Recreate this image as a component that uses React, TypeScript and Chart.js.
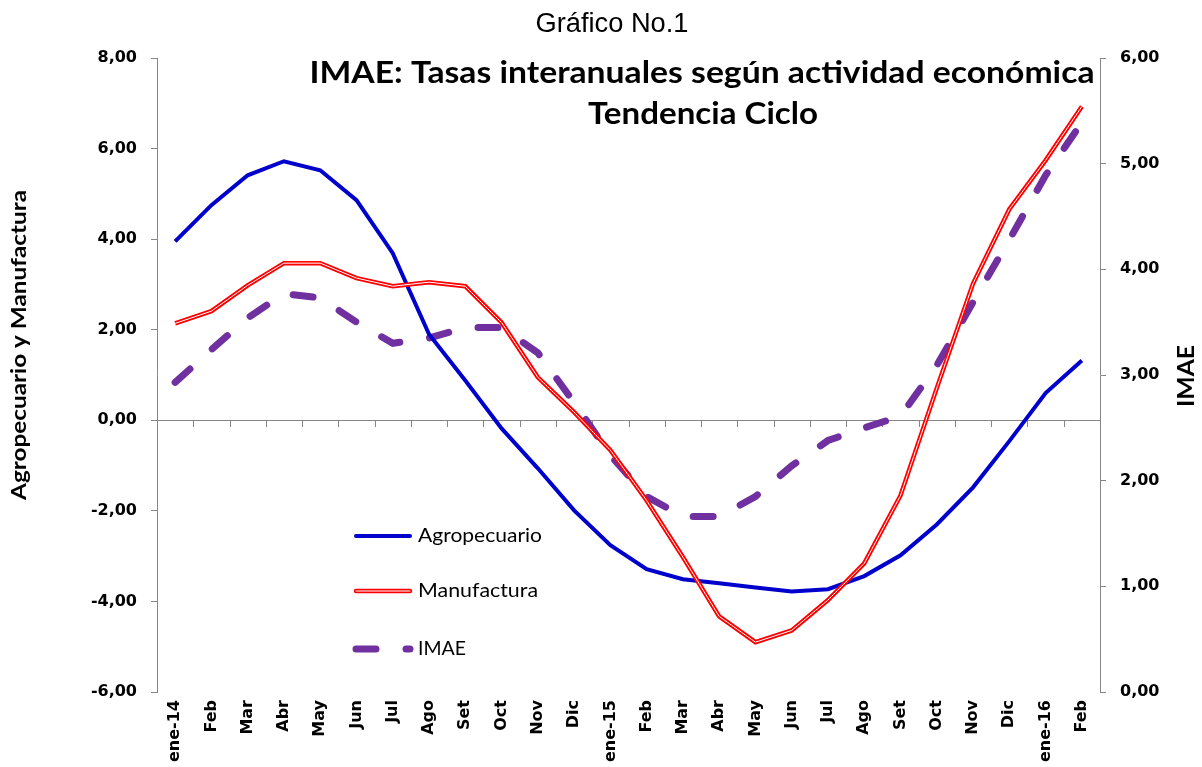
import React, { useEffect, useRef } from "react";
import { Chart, registerables } from "chart.js";

Chart.register(...registerables);

const categories = [
  "ene-14", "Feb", "Mar", "Abr", "May", "Jun", "Jul", "Ago", "Set", "Oct", "Nov", "Dic",
  "ene-15", "Feb", "Mar", "Abr", "May", "Jun", "Jul", "Ago", "Set", "Oct", "Nov", "Dic",
  "ene-16", "Feb",
];

const agropecuario = [
  3.95, 4.75, 5.41, 5.72, 5.52, 4.86, 3.69, 1.9, 0.88, -0.18, -1.06, -1.99,
  -2.76, -3.29, -3.51, -3.6, -3.69, -3.78, -3.73, -3.44, -2.98, -2.3, -1.48, -0.46,
  0.6, 1.32,
];

const manufactura = [
  2.14, 2.41, 2.98, 3.47, 3.47, 3.14, 2.96, 3.05, 2.96, 2.16, 0.95, 0.18,
  -0.66, -1.77, -3.02, -4.33, -4.9, -4.64, -3.97, -3.16, -1.66, 0.71, 3.02, 4.66,
  5.74, 6.93,
];

const imae = [
  2.93, 3.24, 3.54, 3.77, 3.73, 3.5, 3.3, 3.35, 3.45, 3.45, 3.21, 2.74,
  2.24, 1.85, 1.66, 1.66, 1.85, 2.14, 2.38, 2.5, 2.61, 3.09, 3.69, 4.28,
  4.89, 5.39,
];

const leftAxisRange = { min: -6, max: 8, step: 2 };
const rightAxisRange = { min: 0, max: 6, step: 1 };

const chartTitle = "Gráfico No.1";
const mainTitle1 = "IMAE: Tasas interanuales según actividad económica";
const mainTitle2 = "Tendencia Ciclo";
const leftAxisTitle = "Agropecuario y Manufactura";
const rightAxisTitle = "IMAE";

const BLUE = "#0000CC";
const RED = "#FF0000";
const PURPLE = "#7030A0";
const AXIS_GRAY = "#868686";

const fmt = (v: number) => v.toFixed(2).replace(".", ",");

function fitText(
  ctx: CanvasRenderingContext2D,
  text: string,
  x: number,
  y: number,
  font: string,
  width: number,
  rotation = 0
) {
  ctx.save();
  ctx.translate(x, y);
  ctx.rotate(rotation);
  ctx.font = font;
  ctx.fillStyle = "#000";
  ctx.textAlign = "center";
  ctx.textBaseline = "middle";
  const w = ctx.measureText(text).width;
  ctx.scale(width / w, 1);
  ctx.fillText(text, 0, 0);
  ctx.restore();
}

const decorPlugin = {
  id: "decor",
  beforeDatasetsDraw(chart: any) {
    const { ctx, chartArea, scales } = chart;
    const y0 = scales.y.getPixelForValue(0);
    ctx.save();
    ctx.strokeStyle = AXIS_GRAY;
    ctx.lineWidth = 1;
    ctx.beginPath();
    ctx.moveTo(chartArea.left - 6, Math.round(y0) + 0.5);
    ctx.lineTo(chartArea.right, Math.round(y0) + 0.5);
    const n = categories.length;
    for (let i = 1; i < n; i++) {
      const xb = (scales.x.getPixelForValue(i - 1) + scales.x.getPixelForValue(i)) / 2;
      ctx.moveTo(Math.round(xb) + 0.5, Math.round(y0));
      ctx.lineTo(Math.round(xb) + 0.5, Math.round(y0) + 7);
    }
    ctx.stroke();
    ctx.restore();
  },
  afterDraw(chart: any) {
    const { ctx } = chart;
    // titles
    fitText(ctx, chartTitle, 612, 25, "27px 'Liberation Sans Narrow', 'Liberation Sans', sans-serif", 153);
    fitText(ctx, mainTitle1, 702, 73, "bold 30px Lato, 'Open Sans', sans-serif", 785);
    fitText(ctx, mainTitle2, 703, 114, "bold 30px Lato, 'Open Sans', sans-serif", 230);
    fitText(ctx, leftAxisTitle, 19, 345, "bold 21px Lato, 'Open Sans', sans-serif", 310, -Math.PI / 2);
    fitText(ctx, rightAxisTitle, 1187, 376, "bold 23px Lato, 'Open Sans', sans-serif", 62, -Math.PI / 2);

    // legend
    const items = [
      { label: "Agropecuario", color: BLUE, width: 4, dash: [] as number[], y: 536, tw: 124, double: false },
      { label: "Manufactura", color: RED, width: 4.5, dash: [] as number[], y: 591, tw: 120, double: true },
      { label: "IMAE", color: PURPLE, width: 7, dash: [20, 30], y: 649, tw: 48, double: false },
    ];
    for (const it of items) {
      ctx.save();
      ctx.strokeStyle = it.color;
      ctx.lineWidth = it.width;
      ctx.lineCap = "round";
      ctx.setLineDash(it.dash);
      ctx.beginPath();
      ctx.moveTo(356, it.y);
      ctx.lineTo(410, it.y);
      ctx.stroke();
      if (it.double) {
        ctx.strokeStyle = "#fff";
        ctx.lineWidth = 1;
        ctx.beginPath();
        ctx.moveTo(356, it.y);
        ctx.lineTo(410, it.y);
        ctx.stroke();
      }
      ctx.restore();
      ctx.save();
      ctx.font = "19px Lato, 'Open Sans', sans-serif";
      ctx.fillStyle = "#000";
      ctx.textBaseline = "middle";
      ctx.textAlign = "left";
      const w = ctx.measureText(it.label).width;
      ctx.translate(418, it.y);
      ctx.scale(it.tw / w, 1);
      ctx.fillText(it.label, 0, 0);
      ctx.restore();
    }
  },
};

export default function App() {
  const ref = useRef<HTMLCanvasElement | null>(null);

  useEffect(() => {
    document.body.style.margin = "0";
    const canvas = ref.current;
    if (!canvas) return;
    const tickFont = { family: "'DejaVu Sans', Verdana, sans-serif", weight: "bold" as const, size: 16 };
    const chart = new Chart(canvas, {
      type: "line",
      data: {
        labels: categories,
        datasets: [
          {
            label: "Agropecuario",
            data: agropecuario,
            yAxisID: "y",
            borderColor: BLUE,
            borderWidth: 4,
            pointRadius: 0,
            tension: 0,
            order: 3,
          },
          {
            label: "Manufactura",
            data: manufactura,
            yAxisID: "y",
            borderColor: RED,
            borderWidth: 4.5,
            pointRadius: 0,
            tension: 0,
            order: 2,
          },
          {
            label: "Manufactura (interior)",
            data: manufactura,
            yAxisID: "y",
            borderColor: "#FFFFFF",
            borderWidth: 1,
            pointRadius: 0,
            tension: 0,
            order: 1,
          },
          {
            label: "IMAE",
            data: imae,
            yAxisID: "y1",
            borderColor: PURPLE,
            borderWidth: 7,
            borderDash: [20, 30],
            borderCapStyle: "round",
            pointRadius: 0,
            tension: 0,
            order: 4,
          },
        ],
      },
      options: {
        responsive: false,
        animation: false,
        events: [],
        layout: { padding: { top: 58, left: 0, right: 0, bottom: 0 } },
        plugins: {
          legend: { display: false },
          title: { display: false },
          tooltip: { enabled: false },
        },
        scales: {
          x: {
            type: "category",
            offset: true,
            grid: { display: false, drawTicks: false },
            border: { display: false },
            ticks: {
              autoSkip: false,
              maxRotation: 90,
              minRotation: 90,
              padding: 8,
              color: "#000",
              font: tickFont,
            },
            afterFit: (s: any) => {
              s.height = 75;
            },
          },
          y: {
            position: "left",
            min: leftAxisRange.min,
            max: leftAxisRange.max,
            ticks: {
              stepSize: leftAxisRange.step,
              callback: (v: any) => fmt(Number(v)),
              color: "#000",
              font: tickFont,
              padding: 14,
            },
            grid: { drawOnChartArea: false, drawTicks: true, tickLength: 6, color: AXIS_GRAY },
            border: { color: AXIS_GRAY },
            afterFit: (s: any) => {
              s.width = 157;
            },
          },
          y1: {
            position: "right",
            min: rightAxisRange.min,
            max: rightAxisRange.max,
            ticks: {
              stepSize: rightAxisRange.step,
              callback: (v: any) => fmt(Number(v)),
              color: "#000",
              font: tickFont,
              padding: 14,
            },
            grid: { drawOnChartArea: false, drawTicks: true, tickLength: 6, color: AXIS_GRAY },
            border: { color: AXIS_GRAY },
            afterFit: (s: any) => {
              s.width = 102;
            },
          },
        },
      } as any,
      plugins: [decorPlugin],
    });
    return () => chart.destroy();
  }, []);

  return (
    <div style={{ width: 1202, height: 767, background: "#fff" }}>
      <canvas ref={ref} width={1202} height={767} style={{ display: "block" }} />
    </div>
  );
}
